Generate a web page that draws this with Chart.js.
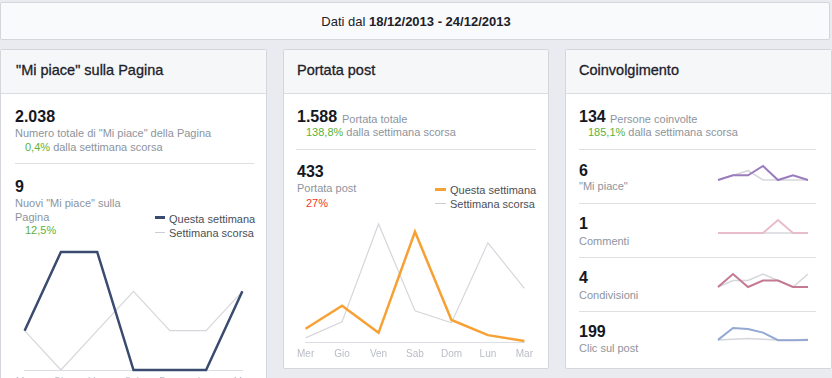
<!DOCTYPE html>
<html>
<head>
<meta charset="utf-8">
<script src="https://cdn.jsdelivr.net/npm/chart.js@4"></script>
<style>
body{margin:0;width:832px;height:378px;overflow:hidden;background:#e9ebf0;font-family:"Liberation Sans",Arial,Helvetica,sans-serif;position:relative}
.box{position:absolute;background:#fff;border:1px solid #d3d6db;box-sizing:border-box;border-radius:2px;overflow:hidden}
.head{position:absolute;left:0;right:0;top:0;height:43px;background:#f6f7f9;border-bottom:1px solid #d9dce1}
.t{position:absolute;line-height:1;white-space:nowrap}
.title{font-size:14.5px;color:#1d2129;-webkit-text-stroke:0.3px #1d2129}
.num{font-size:16px;font-weight:bold;color:#141823}
.g{font-size:11px;color:#8d949e}
.up{color:#5cb23a}
.down{color:#f0372b}
.leg{font-size:11px;color:#4b4f56}
.sep{position:absolute;height:1px;background:#dddfe2}
.sw{position:absolute}
canvas{position:absolute}
</style>
</head>
<body>
<div class="box" style="left:0;top:2px;width:830px;height:38px;background:#f9fafb"></div>
<div class="t" style="left:0;width:832px;text-align:center;top:15px;font-size:13px;color:#1d2129">Dati dal <b>18/12/2013 - 24/12/2013</b></div>

<div class="box" style="left:0;top:49px;width:267px;height:340px"><div class="head"></div></div>
<div class="box" style="left:283px;top:49px;width:266px;height:320px"><div class="head"></div></div>
<div class="box" style="left:565px;top:49px;width:267px;height:320px"><div class="head"></div></div>

<!-- pannello 1 -->
<div class="t title" style="left:16px;top:63px">"Mi piace" sulla Pagina</div>
<div class="t num" style="left:15px;top:109px">2.038</div>
<div class="t g" style="left:15px;top:128px">Numero totale di "Mi piace" della Pagina</div>
<div class="t g" style="left:25px;top:142px"><span class="up">0,4%</span> dalla settimana scorsa</div>
<div class="sep" style="left:15px;top:163px;width:239px"></div>
<div class="t num" style="left:15px;top:179px">9</div>
<div class="t g" style="left:15px;top:198px">Nuovi "Mi piace" sulla</div>
<div class="t g" style="left:15px;top:212px">Pagina</div>
<div class="t g up" style="left:25px;top:225px">12,5%</div>
<div class="sw" style="left:155px;top:216px;width:10px;height:3px;background:#3b4b6f"></div>
<div class="t leg" style="left:169px;top:214px">Questa settimana</div>
<div class="sw" style="left:155px;top:232px;width:10px;height:1px;background:#c9ccd2"></div>
<div class="t leg" style="left:169px;top:228px">Settimana scorsa</div>
<canvas id="likesChart" width="247" height="146" style="left:10px;top:248px"></canvas>

<!-- pannello 2 -->
<div class="t title" style="left:297px;top:63px">Portata post</div>
<div class="t num" style="left:297px;top:109px">1.588</div>
<div class="t g" style="left:342px;top:114px">Portata totale</div>
<div class="t g" style="left:306px;top:127px"><span class="up">138,8%</span> dalla settimana scorsa</div>
<div class="sep" style="left:296px;top:149px;width:240px"></div>
<div class="t num" style="left:297px;top:164px">433</div>
<div class="t g" style="left:297px;top:183px">Portata post</div>
<div class="t g down" style="left:306px;top:198px">27%</div>
<div class="sw" style="left:435px;top:188px;width:11px;height:3px;background:#f7a034"></div>
<div class="t leg" style="left:450px;top:185px">Questa settimana</div>
<div class="sw" style="left:435px;top:203px;width:11px;height:1px;background:#c9ccd2"></div>
<div class="t leg" style="left:450px;top:199px">Settimana scorsa</div>
<canvas id="reachChart" width="248" height="146" style="left:291px;top:220px"></canvas>

<!-- pannello 3 -->
<div class="t title" style="left:579px;top:63px">Coinvolgimento</div>
<div class="t num" style="left:579px;top:109px">134</div>
<div class="t g" style="left:610px;top:114px">Persone coinvolte</div>
<div class="t g" style="left:588px;top:127px"><span class="up">185,1%</span> dalla settimana scorsa</div>
<div class="sep" style="left:579px;top:149px;width:237px"></div>
<div class="t num" style="left:579px;top:163px">6</div>
<div class="t g" style="left:579px;top:181px">"Mi piace"</div>
<div class="sep" style="left:579px;top:203px;width:237px"></div>
<div class="t num" style="left:579px;top:216px">1</div>
<div class="t g" style="left:579px;top:236px">Commenti</div>
<div class="sep" style="left:579px;top:257px;width:237px"></div>
<div class="t num" style="left:579px;top:270px">4</div>
<div class="t g" style="left:579px;top:290px">Condivisioni</div>
<div class="sep" style="left:579px;top:311px;width:237px"></div>
<div class="t num" style="left:579px;top:324px">199</div>
<div class="t g" style="left:579px;top:343px">Clic sul post</div>
<canvas id="sparkLikes" width="98" height="20" style="left:714px;top:163px"></canvas>
<canvas id="sparkComments" width="98" height="19" style="left:714px;top:217px"></canvas>
<canvas id="sparkShares" width="98" height="19" style="left:714px;top:271px"></canvas>
<canvas id="sparkClicks" width="98" height="19" style="left:714px;top:325px"></canvas>

<script>
const days = ['Mer', 'Gio', 'Ven', 'Sab', 'Dom', 'Lun', 'Mar'];

const likesThisWeek = [1, 3, 3, 0, 0, 0, 2];
const likesLastWeek = [1, 0, 1, 2, 1, 1, 2];

const reachThisWeek = [29, 79, 20, 240, 48, 15, 2];
const reachLastWeek = [9, 44, 257, 68, 42, 216, 117];

const pageLikesThisWeek = [0, 1, 1, 3, 0, 1, 0];
const pageLikesLastWeek = [0, 1, 2, 0, 0, 0, 0];
const commentsThisWeek = [0, 0, 0, 0, 1, 0, 0];
const commentsLastWeek = [0, 0, 0, 0, 0, 0, 0];
const sharesThisWeek = [0, 2, 0, 1, 1, 0, 0];
const sharesLastWeek = [0, 1, 1, 2, 1, 0, 2];
const clicksThisWeek = [6, 70, 65, 45, 4, 4, 5];
const clicksLastWeek = [6, 10, 14, 10, 5, 5, 9];

const fontFamily = '"Liberation Sans", Arial, Helvetica, sans-serif';
const lastWeekColor = '#d5d7dc';

function bigChart(id, thisWeek, lastWeek, color) {
    new Chart(document.getElementById(id), {
        type: 'line',
        data: {
            labels: days,
            datasets: [
                { label: 'Questa settimana', data: thisWeek, borderColor: color, borderWidth: 2.5, clip: false },
                { label: 'Settimana scorsa', data: lastWeek, borderColor: lastWeekColor, borderWidth: 1.2, clip: false },
            ],
        },
        options: {
            responsive: false,
            animation: false,
            devicePixelRatio: 1,
            layout: { padding: { left: 12, right: 12, top: 4, bottom: 0 } },
            elements: {
                point: { radius: 0 },
                line: { tension: 0, borderJoinStyle: 'miter' },
            },
            plugins: { legend: { display: false }, tooltip: { enabled: false } },
            scales: {
                x: {
                    offset: false,
                    grid: { display: false, drawTicks: false },
                    border: { color: '#dcdee3' },
                    ticks: { color: '#b9bdc5', font: { size: 10, family: fontFamily }, padding: 6, maxRotation: 0, autoSkip: false },
                },
                y: { display: false, min: 0, max: Math.max(...thisWeek, ...lastWeek) },
            },
        },
    });
}

function spark(id, thisWeek, lastWeek, color) {
    new Chart(document.getElementById(id), {
        type: 'line',
        data: {
            labels: days,
            datasets: [
                { data: thisWeek, borderColor: color, borderWidth: 2, clip: false },
                { data: lastWeek, borderColor: lastWeekColor, borderWidth: 1.5, clip: false },
            ],
        },
        options: {
            responsive: false,
            animation: false,
            devicePixelRatio: 1,
            layout: { padding: { left: 4, right: 4, top: 3, bottom: 3 } },
            elements: { point: { radius: 0 }, line: { tension: 0 } },
            plugins: { legend: { display: false }, tooltip: { enabled: false } },
            scales: {
                x: { display: false, offset: false },
                y: { display: false, min: 0, max: Math.max(...thisWeek, ...lastWeek, 1) },
            },
        },
    });
}

bigChart('likesChart', likesThisWeek, likesLastWeek, '#3b4b6f');
bigChart('reachChart', reachThisWeek, reachLastWeek, '#f7a034');

spark('sparkLikes', pageLikesThisWeek, pageLikesLastWeek, '#9a7bbd');
spark('sparkComments', commentsThisWeek, commentsLastWeek, '#e8bccb');
spark('sparkShares', sharesThisWeek, sharesLastWeek, '#c37a92');
spark('sparkClicks', clicksThisWeek, clicksLastWeek, '#94a8d3');
</script>
</body>
</html>
